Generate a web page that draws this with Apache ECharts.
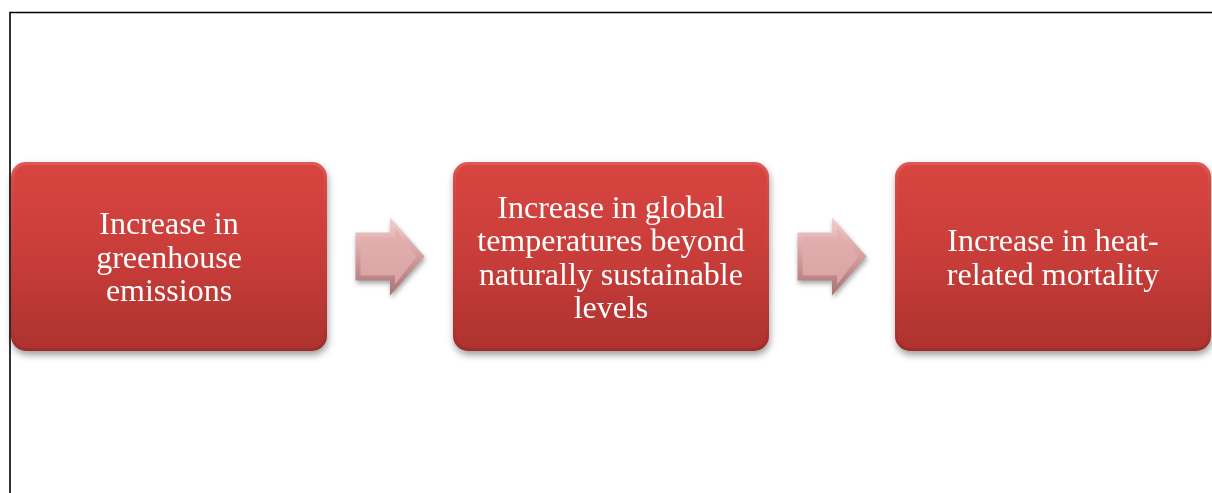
<!DOCTYPE html>
<html>
<head>
<meta charset="utf-8">
<script src="https://cdn.jsdelivr.net/npm/echarts/dist/echarts.min.js"></script>
<style>
  html, body { margin: 0; padding: 0; background: #ffffff; }
  #chart { width: 1212px; height: 493px; }
</style>
</head>
<body>
<div id="chart"></div>
<script>
// Steps of the causal chain, left to right
const steps = [
  'Increase in\ngreenhouse\nemissions',
  'Increase in global\ntemperatures beyond\nnaturally sustainable\nlevels',
  'Increase in heat-\nrelated mortality'
];
const stepPositions = [0, 1, 2];
// Arrows sit halfway between consecutive steps
const arrowPositions = [0.5, 1.5];

const chart = echarts.init(document.getElementById('chart'), null, { renderer: 'canvas' });
const G = echarts.graphic;

function boxItem(params, api) {
  const c = api.coord([api.value(0), 0.5]);
  const w = 316, h = 189;
  const x = c[0] - w / 2, y = c[1] - h / 2;
  return {
    type: 'group',
    children: [
      {
        type: 'rect',
        shape: { x: x, y: y, width: w, height: h, r: 15 },
        style: {
          fill: new G.LinearGradient(0, 0, 0, 1, [
            { offset: 0, color: '#d94541' },
            { offset: 0.5, color: '#c83d39' },
            { offset: 1, color: '#ae322f' }
          ]),
          shadowBlur: 7,
          shadowOffsetX: 1,
          shadowOffsetY: 4,
          shadowColor: 'rgba(0,0,0,0.38)'
        }
      },
      {
        type: 'rect',
        shape: { x: x + 1.5, y: y + 1.5, width: w - 3, height: h - 3, r: 14 },
        style: {
          fill: 'none',
          lineWidth: 3,
          stroke: new G.LinearGradient(0, 0, 0, 1, [
            { offset: 0, color: 'rgba(255,255,255,0.12)' },
            { offset: 0.12, color: 'rgba(255,255,255,0.03)' },
            { offset: 0.88, color: 'rgba(0,0,0,0.02)' },
            { offset: 1, color: 'rgba(0,0,0,0.12)' }
          ])
        }
      },
      {
        type: 'text',
        x: c[0],
        y: c[1] + 3,
        style: {
          text: steps[params.dataIndex],
          fill: '#ffffff',
          fontFamily: '"Liberation Serif", "Times New Roman", serif',
          fontSize: 32,
          lineHeight: 33.5,
          align: 'center',
          verticalAlign: 'middle'
        }
      }
    ]
  };
}

function arrowItem(params, api) {
  const c = api.coord([api.value(0), 0.5]);
  const cx = c[0], cy = c[1];
  const L = -34.5, N = 0, T = 34.5, bh = 24, hh = 39;
  const outer = [
    [cx + L, cy - bh], [cx + N, cy - bh], [cx + N, cy - hh], [cx + T, cy],
    [cx + N, cy + hh], [cx + N, cy + bh], [cx + L, cy + bh]
  ];
  const i = 5;
  const inner = [
    [cx + L + i, cy - bh + i], [cx + N + i, cy - bh + i], [cx + N + i, cy - hh + 2.2 * i],
    [cx + T - 1.6 * i, cy], [cx + N + i, cy + hh - 2.2 * i], [cx + N + i, cy + bh - i],
    [cx + L + i, cy + bh - i]
  ];
  return {
    type: 'group',
    children: [
      {
        type: 'polygon',
        shape: { points: outer },
        style: {
          fill: new G.LinearGradient(0, 0, 0, 1, [
            { offset: 0, color: '#f2d0d0' },
            { offset: 0.5, color: '#d59e9e' },
            { offset: 1, color: '#a87272' }
          ]),
          shadowBlur: 5,
          shadowOffsetX: 1,
          shadowOffsetY: 3,
          shadowColor: 'rgba(0,0,0,0.35)'
        }
      },
      {
        type: 'polygon',
        shape: { points: inner },
        style: {
          fill: new G.LinearGradient(0, 0, 0, 1, [
            { offset: 0, color: '#e4b0b0' },
            { offset: 1, color: '#d9a3a3' }
          ])
        }
      }
    ]
  };
}

chart.setOption({
  animation: false,
  backgroundColor: '#ffffff',
  grid: { left: 169, right: 159, top: 162, bottom: 142 },
  xAxis: { type: 'value', min: 0, max: 2, show: false },
  yAxis: { type: 'value', min: 0, max: 1, show: false },
  graphic: [
    {
      type: 'polyline',
      shape: { points: [[10, 493], [10, 12.5], [1212, 12.5]] },
      style: { stroke: '#000000', lineWidth: 1.6, fill: 'none' },
      silent: true
    }
  ],
  series: [
    {
      type: 'custom',
      name: 'arrows',
      renderItem: arrowItem,
      data: arrowPositions.map(function (p) { return [p]; }),
      encode: { x: 0 },
      silent: true
    },
    {
      type: 'custom',
      name: 'steps',
      renderItem: boxItem,
      data: stepPositions.map(function (p) { return [p]; }),
      encode: { x: 0 },
      silent: true
    }
  ]
});
</script>
</body>
</html>
